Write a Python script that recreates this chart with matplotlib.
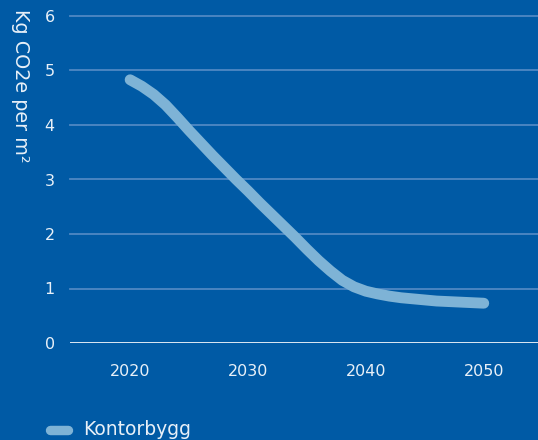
import matplotlib
matplotlib.use("Agg")
import matplotlib.pyplot as plt
from matplotlib.lines import Line2D

# Emissions per square metre for office buildings
years = [2020, 2021, 2022, 2023, 2024, 2025, 2026, 2027, 2028, 2029, 2030,
         2031, 2032, 2033, 2034, 2035, 2036, 2037, 2038, 2039, 2040,
         2041, 2042, 2043, 2044, 2045, 2046, 2047, 2048, 2049, 2050]
kontorbygg = [4.83, 4.71, 4.56, 4.37, 4.14, 3.90, 3.67, 3.44, 3.22, 3.00, 2.79,
              2.57, 2.36, 2.15, 1.94, 1.72, 1.51, 1.32, 1.15, 1.03, 0.95,
              0.90, 0.86, 0.83, 0.81, 0.79, 0.77, 0.76, 0.75, 0.74, 0.73]
x_ticks = [2020, 2030, 2040, 2050]
y_ticks = [0, 1, 2, 3, 4, 5, 6]
series_name = "Kontorbygg"
y_title = "Kg CO2e per m²"

BG = "#005AA5"
LINE = "#7EB3D6"
GRID = "#4F88C3"
TEXT = "#E8F0F8"

plt.rcParams["font.family"] = ["DejaVu Sans"]

fig = plt.figure(figsize=(5.38, 4.40), dpi=100, facecolor=BG)
ax = fig.add_axes([70 / 538, 97 / 440, 468 / 538, 327 / 440])
ax.set_facecolor(BG)

ax.plot(years, kontorbygg, color=LINE, lw=7.8, solid_capstyle="round",
        solid_joinstyle="round", zorder=3)

ax.set_xlim(2014.9, 2054.6)
ax.set_ylim(0, 6)
ax.set_xticks(x_ticks)
ax.set_yticks(y_ticks)
for y in y_ticks[1:]:
    ax.axhline(y, color=GRID, lw=1.3, zorder=1, clip_on=False)
ax.axhline(0, color="#F2F6FB", lw=2.0, zorder=2)

for s in ax.spines.values():
    s.set_visible(False)
ax.tick_params(axis="both", length=0, colors=TEXT, labelsize=11.5)
ax.tick_params(axis="x", pad=15)
ax.tick_params(axis="y", pad=11)

fig.text(20 / 538, 1 - 9 / 440, y_title, rotation=270, ha="center", va="top",
         color=TEXT, fontsize=13.8)

# Legend: a rounded swatch followed by the series name
fig.add_artist(Line2D([50 / 538, 68 / 538], [1 - 430 / 440, 1 - 430 / 440],
                      transform=fig.transFigure, color=LINE, lw=6.8,
                      solid_capstyle="round"))
fig.text(83 / 538, 1 - 435 / 440, series_name, ha="left", va="baseline",
         color=TEXT, fontsize=13.5)

fig.savefig("out.png", dpi=100, facecolor=BG)
